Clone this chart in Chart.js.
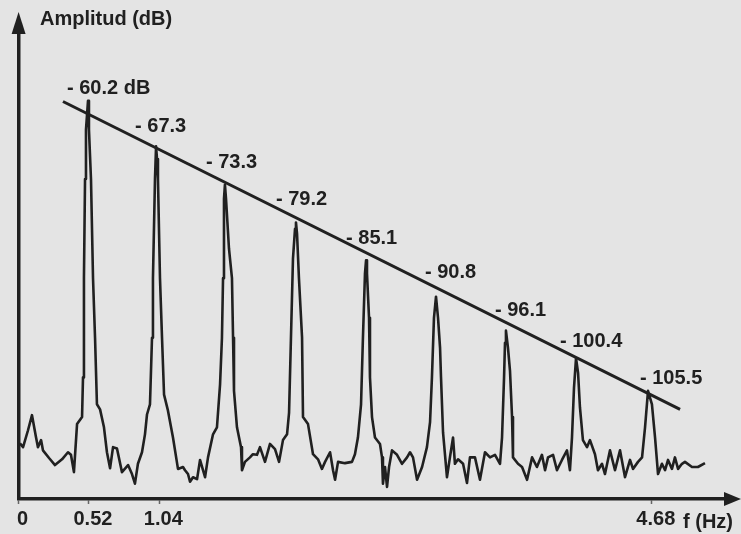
<!DOCTYPE html>
<html lang="es">
<head>
<meta charset="utf-8">
<title>Espectro de amplitud</title>
<script src="https://cdn.jsdelivr.net/npm/chart.js@4/dist/chart.umd.min.js"></script>
<style>
    html, body { margin: 0; padding: 0; background: #e4e4e4; }
    #wrap { width: 741px; height: 534px; position: relative; }
</style>
</head>
<body>
<div id="wrap"><canvas id="spectrum"></canvas></div>
<script>
// Frequency axis ticks (Hz)
const xTicks = [0, 0.52, 1.04, 4.68];
const xTickLabels = ['0', '0.52', '1.04', '4.68'];

// Harmonic peaks: frequency (Hz) and amplitude (dB)
const peakF = [0.513, 1.016, 1.525, 2.050, 2.568, 3.085, 3.602, 4.120, 4.652];
const peakDb = [-60.2, -67.3, -73.3, -79.2, -85.1, -90.8, -96.1, -100.4, -105.5];

// Envelope line joining the peak tops
const trendF = [0.328, 4.889];
const trendDb = [-60.3, -108.4];

// Measured spectrum
const specF = [
    0.010, 0.033, 0.069, 0.099, 0.129, 0.143, 0.166, 0.180, 0.225, 0.269,
    0.321, 0.365, 0.387, 0.409, 0.432, 0.469, 0.476, 0.483, 0.491, 0.498,
    0.513, 0.520, 0.535, 0.550, 0.565, 0.579, 0.602, 0.631, 0.653, 0.676,
    0.698, 0.727, 0.764, 0.809, 0.838, 0.860, 0.882, 0.912, 0.934, 0.949,
    0.971, 0.986, 0.993, 1.008, 1.016, 1.023, 1.030, 1.045, 1.060, 1.075,
    1.104, 1.141, 1.178, 1.215, 1.230, 1.252, 1.267, 1.289, 1.319, 1.341,
    1.363, 1.378, 1.400, 1.437, 1.466, 1.489, 1.503, 1.511, 1.518, 1.525,
    1.533, 1.555, 1.577, 1.585, 1.592, 1.614, 1.644, 1.651, 1.673, 1.710,
    1.732, 1.762, 1.784, 1.821, 1.858, 1.895, 1.925, 1.954, 1.984, 1.999,
    2.013, 2.028, 2.043, 2.050, 2.058, 2.072, 2.095, 2.102, 2.139, 2.176,
    2.213, 2.242, 2.265, 2.302, 2.324, 2.339, 2.361, 2.412, 2.464, 2.486,
    2.508, 2.531, 2.545, 2.560, 2.568, 2.575, 2.590, 2.597, 2.612, 2.634,
    2.671, 2.686, 2.693, 2.708, 2.723, 2.738, 2.760, 2.797, 2.834, 2.871,
    2.893, 2.915, 2.945, 2.982, 3.018, 3.041, 3.055, 3.070, 3.085, 3.100,
    3.115, 3.122, 3.137, 3.166, 3.188, 3.211, 3.225, 3.248, 3.285, 3.314,
    3.336, 3.373, 3.410, 3.447, 3.484, 3.521, 3.558, 3.573, 3.588, 3.595,
    3.602, 3.617, 3.632, 3.647, 3.654, 3.691, 3.721, 3.758, 3.795, 3.831,
    3.868, 3.891, 3.913, 3.950, 3.979, 4.016, 4.053, 4.075, 4.090, 4.105,
    4.120, 4.135, 4.149, 4.171, 4.201, 4.223, 4.260, 4.282, 4.312, 4.334,
    4.371, 4.408, 4.445, 4.482, 4.519, 4.541, 4.578, 4.608, 4.630, 4.652,
    4.681, 4.704, 4.726, 4.755, 4.778, 4.800, 4.829, 4.851, 4.874, 4.903,
    4.925, 4.977, 5.021, 5.073
];
const specDb = [
    -113.7, -114.3, -111.7, -109.3, -112.8, -114.3, -113.2, -114.8, -116.0, -117.1,
    -116.2, -115.1, -115.5, -118.2, -110.7, -109.6, -103.4, -87.9, -72.4, -64.7,
    -60.2, -64.7, -72.4, -87.9, -97.2, -107.6, -108.4, -111.2, -115.1, -117.6,
    -114.3, -114.5, -118.2, -117.1, -118.5, -120.0, -116.9, -115.1, -112.3, -109.2,
    -107.6, -97.2, -87.9, -72.4, -67.3, -69.3, -72.4, -87.9, -97.2, -106.1,
    -108.6, -112.8, -117.7, -117.4, -117.9, -118.5, -119.7, -119.0, -119.3, -116.3,
    -117.9, -119.0, -115.9, -112.3, -111.2, -104.5, -97.2, -87.9, -75.5, -73.3,
    -75.5, -83.3, -87.9, -97.2, -105.5, -111.2, -114.3, -117.9, -116.6, -115.9,
    -115.4, -115.5, -114.3, -116.6, -113.8, -114.6, -116.6, -113.2, -112.3, -108.9,
    -97.2, -84.8, -80.2, -79.2, -81.0, -87.9, -97.2, -109.6, -110.7, -115.4,
    -116.2, -117.7, -116.6, -115.1, -117.9, -119.4, -116.6, -116.8, -116.6, -115.4,
    -112.8, -107.6, -97.2, -87.2, -85.1, -87.2, -94.1, -103.4, -109.6, -112.8,
    -113.8, -115.9, -120.0, -117.4, -120.5, -117.4, -114.8, -115.5, -116.9, -115.9,
    -115.1, -115.9, -119.4, -117.4, -114.3, -110.4, -103.4, -94.1, -90.8, -94.1,
    -98.8, -103.4, -112.0, -119.0, -115.9, -112.8, -116.9, -116.2, -116.9, -119.9,
    -115.9, -115.9, -119.4, -115.1, -115.9, -115.5, -116.9, -112.8, -103.4, -98.0,
    -96.1, -98.8, -102.4, -109.6, -115.9, -116.9, -117.4, -119.4, -115.9, -117.4,
    -115.5, -117.9, -115.9, -115.5, -117.9, -116.3, -114.8, -117.9, -112.8, -105.0,
    -100.4, -102.7, -108.1, -113.2, -114.3, -113.2, -115.4, -117.9, -116.9, -118.5,
    -114.8, -117.9, -114.8, -119.0, -116.3, -117.7, -116.6, -115.9, -111.2, -105.5,
    -107.6, -112.8, -118.5, -116.9, -117.9, -116.3, -117.7, -115.9, -117.7, -116.9,
    -116.6, -117.4, -117.4, -116.8
];

// Hand placement of the peak labels (px from the peak top)
const labelDx = [-21, -21, -19, -20, -20, -11, -11, -16, -8];
const labelDy = [-12, -20, -22, -23, -22, -24, -20, -17, -12];

const ink = '#202020';
const boldFont = 'bold 20px "Liberation Sans", Arial, sans-serif';

const toPoints = (xs, ys) => xs.map((x, i) => ({ x: x, y: ys[i] }));

// Arrow heads, axis names and peak labels
const annotations = {
    id: 'annotations',
    afterDraw(chart) {
        const { ctx, chartArea: a, scales: { x, y } } = chart;
        ctx.save();
        ctx.fillStyle = ink;

        // y arrow
        ctx.beginPath();
        ctx.moveTo(a.left, 12);
        ctx.lineTo(a.left - 7, a.top + 1);
        ctx.lineTo(a.left + 7, a.top + 1);
        ctx.closePath();
        ctx.fill();

        // x arrow
        ctx.beginPath();
        ctx.moveTo(741, a.bottom);
        ctx.lineTo(a.right - 1, a.bottom - 7);
        ctx.lineTo(a.right - 1, a.bottom + 7);
        ctx.closePath();
        ctx.fill();

        ctx.font = boldFont;
        ctx.textBaseline = 'alphabetic';
        ctx.textAlign = 'left';
        ctx.fillText('Amplitud (dB)', 40, 25);
        ctx.fillText('f (Hz)', 683, 528);

        ctx.textBaseline = 'middle';
        peakDb.forEach((v, i) => {
            const px = x.getPixelForValue(peakF[i]);
            const py = y.getPixelForValue(v);
            let txt = '- ' + Math.abs(v).toFixed(1);
            if (i === 0) txt += ' dB';
            ctx.fillText(txt, px + labelDx[i], py + labelDy[i]);
        });
        ctx.restore();
    }
};

new Chart(document.getElementById('spectrum'), {
    type: 'line',
    data: {
        datasets: [{
            data: toPoints(specF, specDb),
            borderColor: ink,
            borderWidth: 2.6,
            borderJoinStyle: 'round',
            pointRadius: 0,
            tension: 0,
            fill: false
        }, {
            data: toPoints(trendF, trendDb),
            borderColor: ink,
            borderWidth: 3,
            pointRadius: 0,
            fill: false
        }]
    },
    options: {
        responsive: true,
        maintainAspectRatio: false,
        animation: false,
        events: [],
        layout: { padding: { left: 18.6, top: 33, right: 16, bottom: 0 } },
        plugins: {
            legend: { display: false },
            tooltip: { enabled: false }
        },
        scales: {
            x: {
                type: 'linear',
                min: 0,
                max: 5.221,
                afterBuildTicks: (scale) => {
                    scale.ticks = xTicks.map(v => ({ value: v }));
                },
                grid: {
                    display: true,
                    drawOnChartArea: false,
                    drawTicks: true,
                    tickLength: 5,
                    tickColor: '#666',
                    tickWidth: 1.5
                },
                border: { display: true, color: ink, width: 3.5 },
                ticks: {
                    color: ink,
                    padding: 3,
                    labelOffset: 4,
                    maxRotation: 0,
                    autoSkip: false,
                    font: { family: '"Liberation Sans", Arial, sans-serif', size: 20, weight: 'bold' },
                    callback: (v, i) => xTickLabels[i]
                }
            },
            y: {
                type: 'linear',
                min: -122.4,
                max: -49.6,
                grid: { display: false, drawTicks: false },
                border: { display: true, color: ink, width: 3.5 },
                ticks: { display: false }
            }
        }
    },
    plugins: [annotations]
});
</script>
</body>
</html>
